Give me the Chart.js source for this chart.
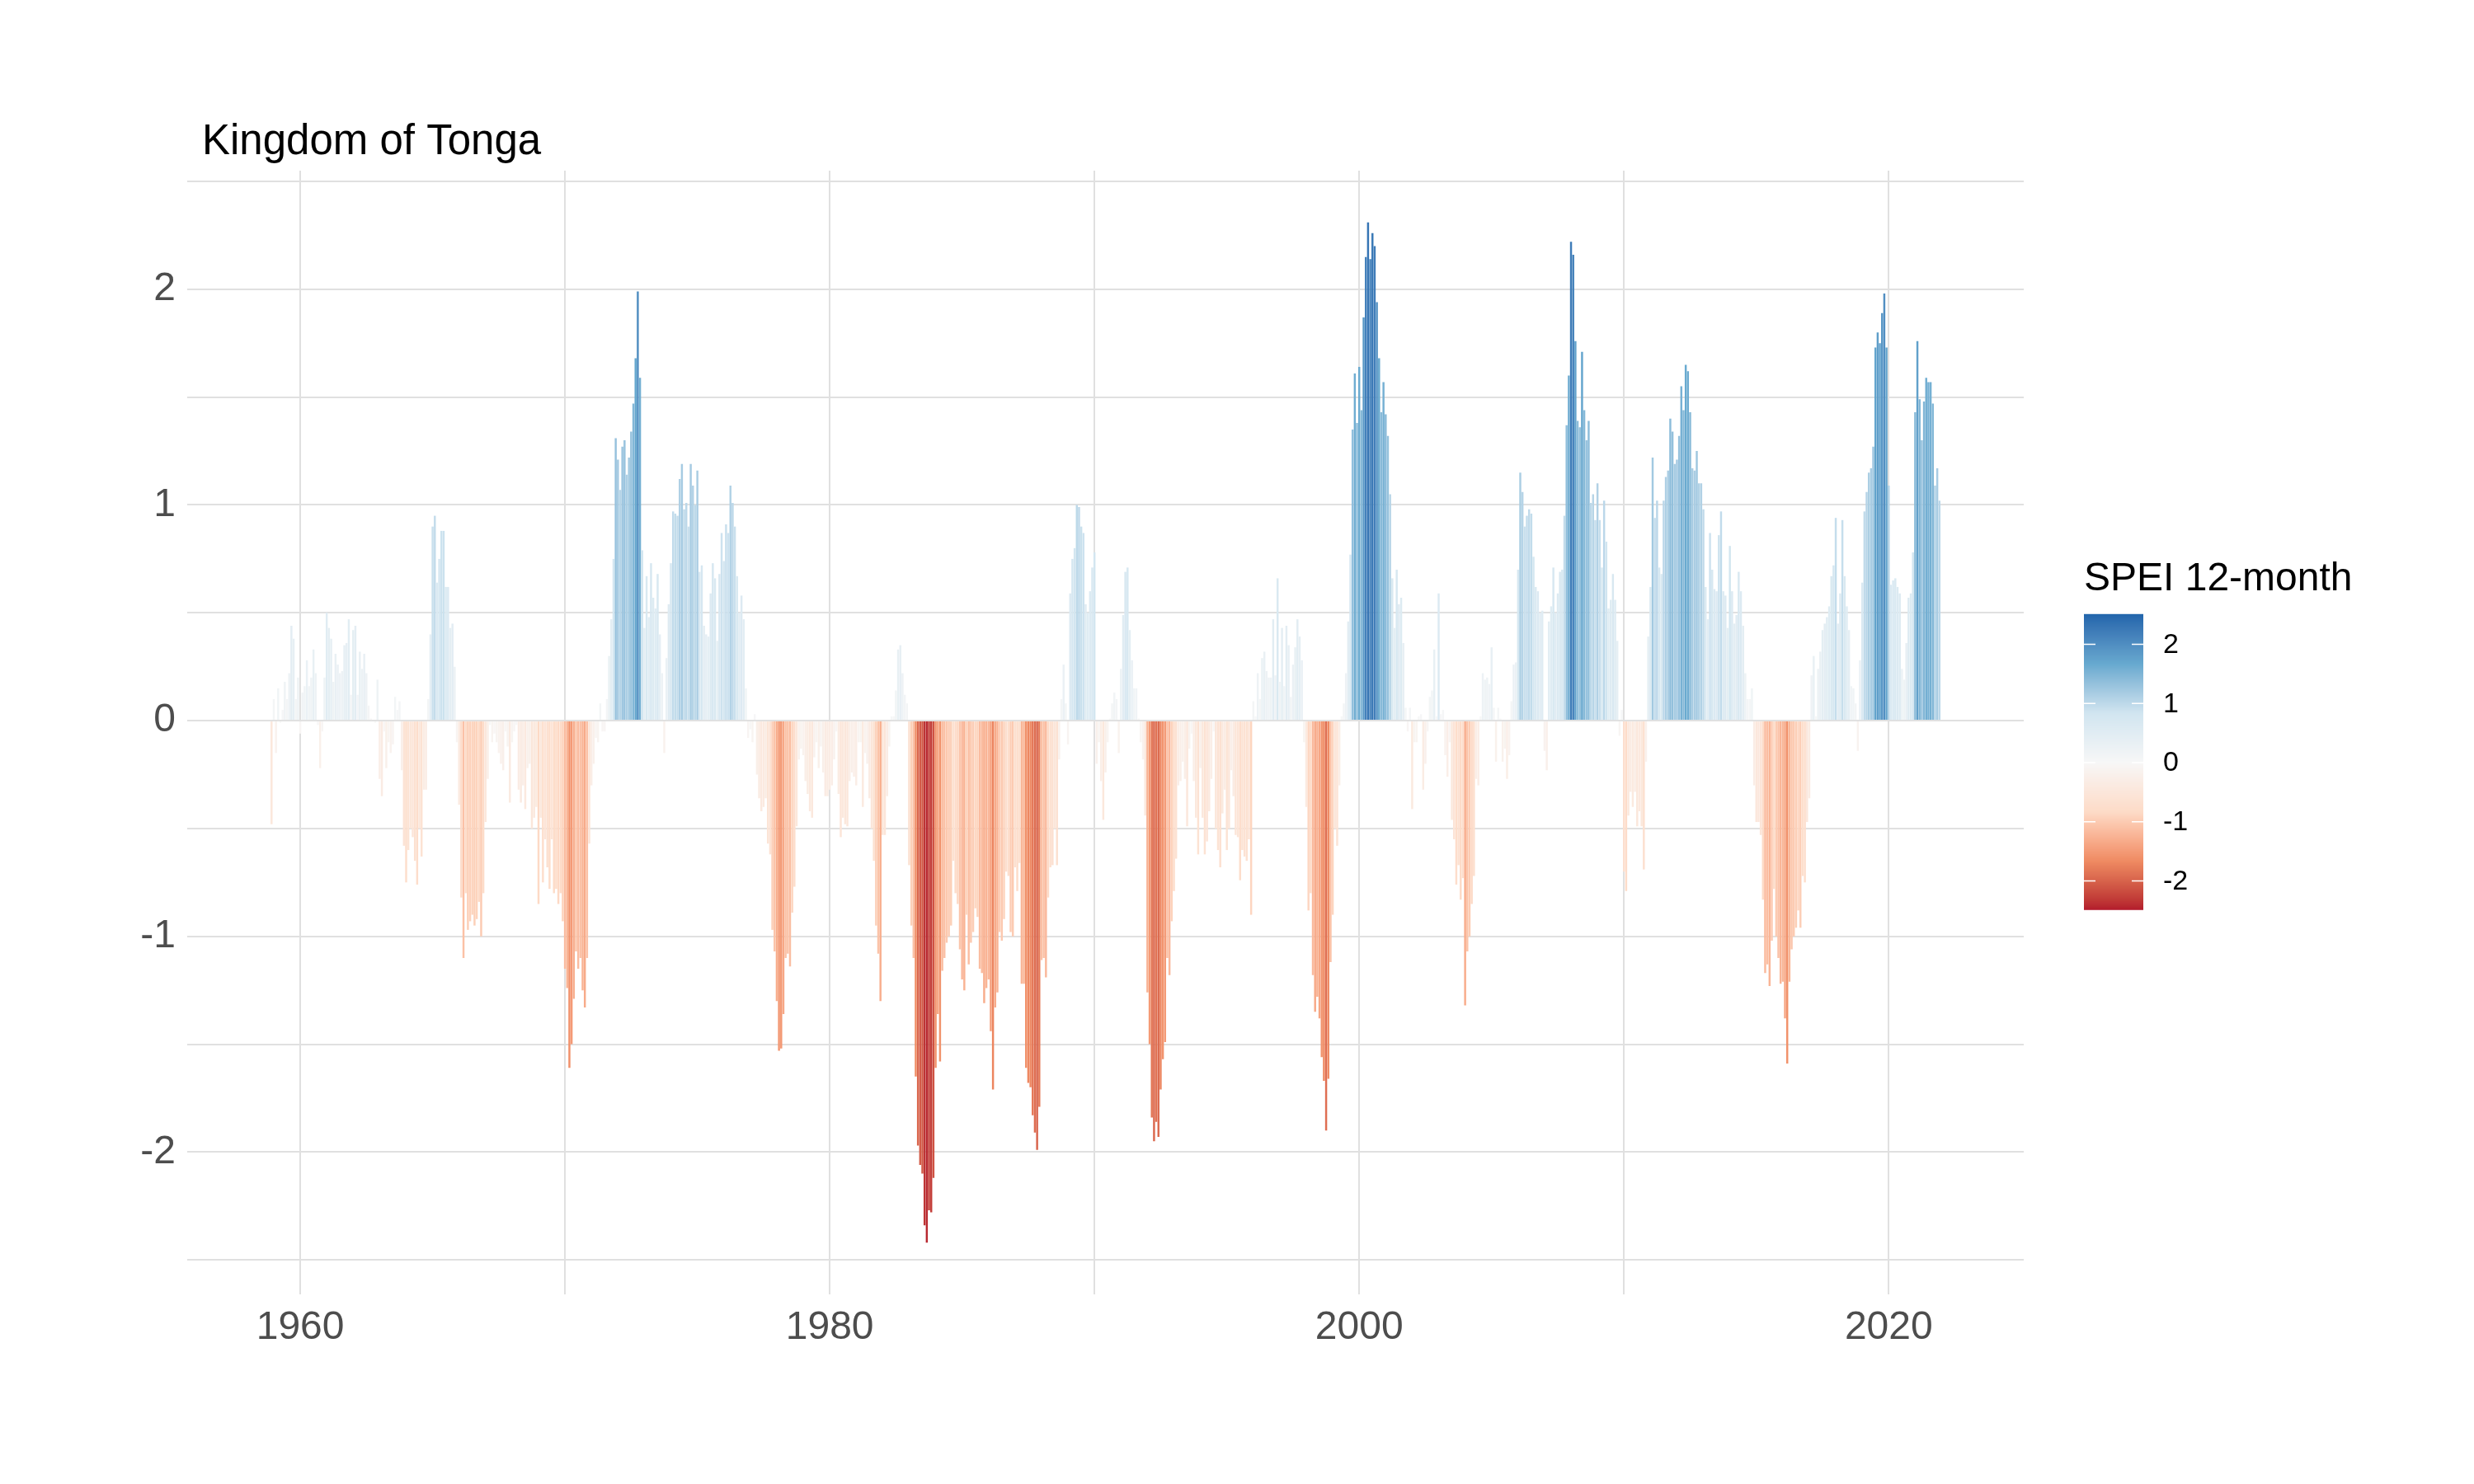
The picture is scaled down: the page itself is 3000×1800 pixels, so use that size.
<!DOCTYPE html>
<html><head><meta charset="utf-8">
<script src="https://cdn.jsdelivr.net/npm/chart.js@4.4.1/dist/chart.umd.min.js"></script>
<style>html,body{margin:0;padding:0;background:#fff;}canvas{display:block;}</style>
</head><body>
<canvas id="c" width="3000" height="1800" style="width:3000px;height:1800px"></canvas>
<script>
// ---- text ----
const chartTitle = "Kingdom of Tonga";
const legendTitle = "SPEI 12-month";
// ---- data: monthly SPEI 12-month, first value = Dec 1958 ----
const firstYear = 1958, firstMonth = 12;
const spei1958 = [-0.48];
const spei1959 = [0.1,-0.15,0.15,-0.01,0.05,0.18,0.1,0.22,0.44,0.38,0.1,0.2];
const spei1960 = [-0.06,0.13,0.16,0.28,0.16,0.2,0.33,0.22,-0.02,-0.22,-0.05,0.2];
const spei1961 = [0.5,0.43,0.38,0.18,0.31,0.26,0.22,0.23,0.35,0.36,0.47,0.12];
const spei1962 = [0.42,0.44,0.12,0.32,0.24,0.31,0.22,0.07,0.01,0.0,-0.01,0.19];
const spei1963 = [-0.27,-0.35,-0.05,-0.22,-0.1,-0.15,-0.11,0.11,0.05,0.09,-0.23,-0.58];
const spei1964 = [-0.75,-0.6,-0.5,-0.54,-0.65,-0.76,-0.5,-0.63,-0.32,-0.32,0.1,0.4];
const spei1965 = [0.9,0.95,0.64,0.75,0.88,0.88,0.62,0.62,0.43,0.45,0.25,-0.1];
const spei1966 = [-0.39,-0.82,-1.1,-0.8,-0.97,-0.93,-0.9,-0.95,-0.92,-0.84,-1.0,-0.8];
const spei1967 = [-0.47,-0.27,-0.02,-0.1,-0.06,-0.1,-0.15,-0.2,-0.23,-0.05,-0.12,-0.38];
const spei1968 = [-0.1,-0.05,-0.02,-0.32,-0.38,-0.3,-0.41,-0.22,-0.2,-0.5,-0.45,-0.4];
const spei1969 = [-0.85,-0.45,-0.75,-0.55,-0.68,-0.78,-0.55,-0.8,-0.78,-0.85,-0.8,-0.93];
const spei1970 = [-1.15,-1.24,-1.61,-1.5,-1.29,-1.07,-1.15,-1.1,-1.25,-1.33,-1.1,-0.57];
const spei1971 = [-0.3,-0.2,-0.08,-0.1,0.08,-0.05,-0.05,0.1,0.3,0.47,0.75,1.31];
const spei1972 = [1.21,1.07,1.27,1.3,1.14,1.22,1.34,1.47,1.68,1.99,1.59,0.79];
const spei1973 = [0.43,0.67,0.48,0.73,0.57,0.52,0.68,0.4,0.22,-0.15,0.29,0.54];
const spei1974 = [0.73,0.97,0.96,0.95,1.12,1.19,0.98,1.01,0.9,1.19,1.09,1.0];
const spei1975 = [1.16,0.69,0.72,0.44,0.4,0.39,0.59,0.73,0.66,0.37,0.68,0.87];
const spei1976 = [0.74,0.91,0.87,1.09,1.01,0.9,0.67,0.5,0.58,0.47,0.15,-0.08];
const spei1977 = [-0.04,-0.1,0.03,-0.25,-0.36,-0.42,-0.4,-0.36,-0.57,-0.62,-0.97,-1.07];
const spei1978 = [-1.3,-1.53,-1.52,-1.36,-1.1,-1.08,-1.14,-0.89,-0.77,-0.49,-0.18,-0.13];
const spei1979 = [-0.16,-0.28,-0.34,-0.42,-0.45,-0.17,-0.1,-0.22,-0.12,-0.24,-0.35,-0.35];
const spei1980 = [-0.32,-0.3,-0.18,-0.05,-0.34,-0.54,-0.45,-0.48,-0.49,-0.28,-0.24,-0.26];
const spei1981 = [-0.3,-0.1,-0.1,-0.4,-0.15,-0.2,-0.36,-0.5,-0.65,-0.95,-1.08,-1.3];
const spei1982 = [-0.53,-0.53,-0.35,-0.12,0.02,0.02,0.14,0.33,0.35,0.22,0.12,0.08];
const spei1983 = [-0.67,-0.95,-1.1,-1.65,-1.97,-2.06,-2.1,-2.34,-2.42,-2.27,-2.28,-2.12];
const spei1984 = [-1.61,-1.36,-1.58,-1.16,-1.1,-1.03,-1.0,-0.95,-0.65,-0.8,-0.85,-1.06];
const spei1985 = [-1.2,-1.25,-0.9,-1.13,-1.03,-0.98,-0.87,-0.91,-1.15,-1.17,-1.31,-1.24];
const spei1986 = [-1.2,-1.44,-1.71,-1.33,-1.26,-0.98,-1.02,-0.92,-0.7,-0.72,-0.98,-1.0];
const spei1987 = [-0.68,-0.79,-0.66,-1.22,-1.22,-1.61,-1.68,-1.7,-1.83,-1.91,-1.99,-1.79];
const spei1988 = [-1.11,-1.1,-1.19,-0.82,-0.68,-0.67,-0.5,-0.67,-0.18,0.1,0.26,0.08];
const spei1989 = [-0.11,0.59,0.75,0.8,1.0,0.99,0.9,0.87,0.54,0.5,0.6,0.71];
const spei1990 = [0.78,-0.2,-0.1,-0.28,-0.46,-0.24,-0.1,0.01,0.08,0.13,0.1,-0.15];
const spei1991 = [0.24,0.49,0.69,0.71,0.42,0.28,0.15,0.15,0.01,-0.1,-0.18,-0.44];
const spei1992 = [-1.26,-1.5,-1.84,-1.95,-1.86,-1.93,-1.71,-1.57,-1.49,-1.1,-1.18,-0.93];
const spei1993 = [-0.79,-0.64,-0.3,-0.28,-0.19,-0.27,-0.49,-0.13,-0.06,-0.28,-0.45,-0.62];
const spei1994 = [-0.22,-0.45,-0.62,-0.56,-0.42,-0.27,-0.05,-0.5,-0.6,-0.68,-0.43,-0.32];
const spei1995 = [-0.6,-0.5,-0.23,-0.35,-0.53,-0.54,-0.74,-0.6,-0.63,-0.65,-0.55,-0.9];
const spei1996 = [0.09,0.02,0.22,0.1,0.29,0.32,0.23,0.2,0.2,0.47,0.21,0.66];
const spei1997 = [0.18,0.43,0.16,0.44,0.35,0.11,0.26,0.34,0.47,0.39,0.28,-0.1];
const spei1998 = [-0.4,-0.88,-0.8,-1.18,-1.35,-1.28,-1.38,-1.56,-1.67,-1.9,-1.66,-1.12];
const spei1999 = [-0.9,-0.5,-0.58,-0.3,0.02,0.08,0.22,0.46,0.77,1.35,1.61,1.38];
const spei2000 = [1.64,1.44,1.87,2.15,2.31,2.14,2.26,2.2,1.94,1.68,1.43,1.57];
const spei2001 = [1.42,1.32,1.05,0.66,0.43,0.7,0.54,0.57,0.36,0.06,-0.05,0.06];
const spei2002 = [-0.41,-0.1,-0.1,0.02,0.03,-0.32,-0.2,-0.05,0.11,0.14,0.33,0.02];
const spei2003 = [0.59,0.03,0.05,-0.16,-0.26,-0.1,-0.46,-0.55,-0.76,-0.67,-0.83,-0.73];
const spei2004 = [-1.32,-1.07,-1.0,-0.85,-0.72,-0.27,-0.3,0.02,0.22,0.19,0.2,0.17];
const spei2005 = [0.34,0.06,-0.19,0.06,0.01,-0.19,-0.13,-0.27,-0.16,0.09,0.26,0.27];
const spei2006 = [0.7,1.15,1.06,0.9,0.95,0.98,0.96,0.76,0.62,0.6,0.5,0.51];
const spei2007 = [-0.14,-0.23,0.46,0.53,0.71,0.5,0.59,0.69,0.7,0.95,1.37,1.6];
const spei2008 = [2.22,2.16,1.76,1.39,1.36,1.71,1.44,1.3,1.39,1.01,1.05,0.93];
const spei2009 = [1.1,0.93,0.71,1.02,0.83,0.52,0.56,0.68,0.56,0.37,-0.07,0.05];
const spei2010 = [-0.7,-0.79,-0.44,-0.33,-0.4,-0.33,-0.49,-0.42,-0.49,-0.69,-0.19,0.39];
const spei2011 = [0.62,1.22,0.94,1.02,0.71,0.68,1.02,1.13,1.16,1.4,1.34,1.19];
const spei2012 = [1.21,1.32,1.55,1.44,1.65,1.62,1.43,1.17,1.16,1.25,1.1,1.1];
const spei2013 = [0.98,0.62,0.47,0.87,0.7,0.61,0.6,0.86,0.97,0.6,0.58,0.43];
const spei2014 = [0.81,0.6,0.45,0.49,0.69,0.6,0.44,0.22,0.1,0.1,0.15,-0.3];
const spei2015 = [-0.47,-0.47,-0.53,-0.83,-1.17,-1.13,-1.23,-1.02,-0.78,-1.0,-1.1,-1.22];
const spei2016 = [-1.21,-1.38,-1.59,-1.21,-1.06,-1.0,-0.96,-0.88,-0.96,-0.72,-0.75,-0.47];
const spei2017 = [-0.36,0.21,0.3,0.02,0.24,0.32,0.42,0.45,0.48,0.53,0.67,0.72];
const spei2018 = [0.94,0.45,0.59,0.93,0.67,0.53,0.42,0.16,0.15,0.08,-0.14,0.28];
const spei2019 = [0.64,0.97,1.06,1.15,1.17,1.27,1.73,1.8,1.75,1.89,1.98,1.73];
const spei2020 = [1.09,0.63,0.65,0.66,0.62,0.59,0.24,0.19,0.36,0.57,0.59,0.78];
const spei2021 = [1.43,1.76,1.49,1.3,1.48,1.59,1.57,1.57,1.47,1.09,1.17,1.02];

const yearlySeries = [spei1958,spei1959,spei1960,spei1961,spei1962,spei1963,spei1964,spei1965,spei1966,spei1967,
 spei1968,spei1969,spei1970,spei1971,spei1972,spei1973,spei1974,spei1975,spei1976,spei1977,spei1978,spei1979,
 spei1980,spei1981,spei1982,spei1983,spei1984,spei1985,spei1986,spei1987,spei1988,spei1989,spei1990,spei1991,
 spei1992,spei1993,spei1994,spei1995,spei1996,spei1997,spei1998,spei1999,spei2000,spei2001,spei2002,spei2003,
 spei2004,spei2005,spei2006,spei2007,spei2008,spei2009,spei2010,spei2011,spei2012,spei2013,spei2014,spei2015,
 spei2016,spei2017,spei2018,spei2019,spei2020,spei2021];

// ---- ticks ----
const xTickYears = [1960,1970,1980,1990,2000,2010,2020];
const xLabelYears = [1960,1980,2000,2020];
const yTickValues = [-2.5,-2,-1.5,-1,-0.5,0,0.5,1,1.5,2,2.5];
const yLabelValues = [-2,-1,0,1,2];
const legendTickValues = [2,1,0,-1,-2];
// ---- colour scale (RdBu, 7 classes) ----
const paletteRdBu = ['#B2182B','#EF8A62','#FDDBC7','#F7F7F7','#D1E5F0','#67A9CF','#2166AC'];
const colorLimits = [-2.5, 2.5];

// ---------- helpers ----------
function hexToRgb(h){return [parseInt(h.slice(1,3),16),parseInt(h.slice(3,5),16),parseInt(h.slice(5,7),16)];}
function srgbToLin(c){c/=255;return c<=0.04045?c/12.92:Math.pow((c+0.055)/1.055,2.4);}
function linToSrgb(c){c=c<=0.0031308?12.92*c:1.055*Math.pow(c,1/2.4)-0.055;return Math.max(0,Math.min(255,Math.round(c*255)));}
function rgbToLab(rgb){
  const [r,g,b]=rgb.map(srgbToLin);
  let X=(r*0.4124+g*0.3576+b*0.1805)/0.95047, Y=(r*0.2126+g*0.7152+b*0.0722), Z=(r*0.0193+g*0.1192+b*0.9505)/1.08883;
  const f=t=>t>0.008856?Math.cbrt(t):(7.787*t+16/116);
  const fx=f(X),fy=f(Y),fz=f(Z);
  return [116*fy-16,500*(fx-fy),200*(fy-fz)];
}
function labToRgb(lab){
  const fy=(lab[0]+16)/116, fx=fy+lab[1]/500, fz=fy-lab[2]/200;
  const fi=t=>{const t3=t*t*t;return t3>0.008856?t3:(t-16/116)/7.787;};
  const X=fi(fx)*0.95047, Y=fi(fy), Z=fi(fz)*1.08883;
  const r=X*3.2406+Y*-1.5372+Z*-0.4986, g=X*-0.9689+Y*1.8758+Z*0.0415, b=X*0.0557+Y*-0.2040+Z*1.0570;
  return [linToSrgb(r),linToSrgb(g),linToSrgb(b)];
}
const paletteLab = paletteRdBu.map(h=>rgbToLab(hexToRgb(h)));
function colorFor(v){
  let t=(v-colorLimits[0])/(colorLimits[1]-colorLimits[0]);
  t=Math.max(0,Math.min(1,t));
  const p=t*(paletteLab.length-1); const i=Math.min(Math.floor(p),paletteLab.length-2); const f=p-i;
  const a=paletteLab[i], b=paletteLab[i+1];
  const c=labToRgb([a[0]+(b[0]-a[0])*f,a[1]+(b[1]-a[1])*f,a[2]+(b[2]-a[2])*f]);
  return 'rgb('+c[0]+','+c[1]+','+c[2]+')';
}

// ---------- build points ----------
const points=[]; const colors=[];
let yr=firstYear, mo=firstMonth;
yearlySeries.forEach((arr,k)=>{
  arr.forEach(v=>{
    points.push({x: yr + (mo-1)/12, y: v});
    colors.push(colorFor(v));
    mo++; if(mo>12){mo=1;yr++;}
  });
});

const FONT = "'Liberation Sans', Arial, Helvetica, sans-serif";
const CA = {left:227, right:2454, top:207, bottom:1570};

const overlay = {
  id:'overlay',
  afterDraw(chart){
    const ctx=chart.ctx;
    ctx.save();
    // title
    ctx.fillStyle='#000000';
    ctx.font='51px '+FONT;
    ctx.textAlign='left'; ctx.textBaseline='alphabetic';
    ctx.fillText(chartTitle, 245, 187);
    // legend title
    ctx.font='48px '+FONT;
    ctx.fillText(legendTitle, 2527, 716);
    // colour bar
    const bx=2527, bw=72, yZero=925, perUnit=71.8;
    const top=yZero-perUnit*2.51, bottom=yZero+perUnit*2.49;
    for(let y=Math.floor(top); y<Math.ceil(bottom); y++){
      const v=(yZero-(y+0.5))/perUnit;
      ctx.fillStyle=colorFor(v);
      ctx.fillRect(bx, Math.max(y,top), bw, Math.min(y+1,bottom)-Math.max(y,top));
    }
    // ticks + labels
    ctx.strokeStyle='#ffffff'; ctx.lineWidth=1.5;
    ctx.font='34px '+FONT; ctx.fillStyle='#000000'; ctx.textBaseline='middle';
    legendTickValues.forEach(v=>{
      const y=yZero-perUnit*v;
      ctx.beginPath(); ctx.moveTo(bx,y); ctx.lineTo(bx+14,y); ctx.moveTo(bx+bw-14,y); ctx.lineTo(bx+bw,y); ctx.stroke();
      ctx.fillText(String(v), 2623, y+1);
    });
    ctx.restore();
  }
};

new Chart(document.getElementById('c').getContext('2d'), {
  type:'bar',
  data:{datasets:[{data:points, backgroundColor:colors, borderWidth:0, barPercentage:0.92, categoryPercentage:1.0}]},
  options:{
    responsive:false, animation:false, devicePixelRatio:1,
    layout:{padding:{left:0, right:3000-CA.right, top:CA.top, bottom:0}},
    plugins:{legend:{display:false}, title:{display:false}, tooltip:{enabled:false}},
    scales:{
      x:{type:'linear', min:1955.73, max:2025.10, offset:false,
         afterBuildTicks:s=>{s.ticks=xTickYears.map(v=>({value:v}));},
         afterFit:s=>{s.height=1800-CA.bottom;},
         ticks:{callback:v=>xLabelYears.includes(v)?String(v):'', color:'#4D4D4D', font:{family:FONT,size:48}, padding:12, maxRotation:0, autoSkip:false},
         grid:{color:'#E0E0E0', lineWidth:2, drawTicks:false, offset:false}, border:{display:false}},
      y:{type:'linear', min:-2.66, max:2.55,
         afterBuildTicks:s=>{s.ticks=yTickValues.map(v=>({value:v}));},
         afterFit:s=>{s.width=CA.left;},
         ticks:{callback:v=>yLabelValues.includes(v)?String(v):'', color:'#4D4D4D', font:{family:FONT,size:48}, padding:14, autoSkip:false},
         grid:{color:'#E0E0E0', lineWidth:2, drawTicks:false}, border:{display:false}}
    }
  },
  plugins:[overlay]
});
</script>
</body></html>
